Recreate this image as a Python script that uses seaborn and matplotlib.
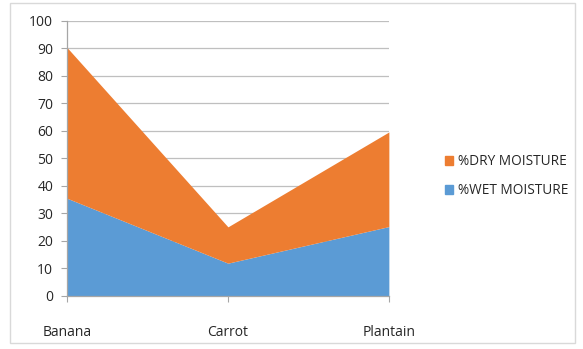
import matplotlib.pyplot as plt
import matplotlib.patches as mpatches
import seaborn as sns
import pandas as pd

categories = ['Banana', 'Carrot', 'Plantain']
wet_moisture = [35.4, 11.8, 25.1]
dry_moisture = [54.8, 13.2, 34.4]

sns.set_style('white')
plt.rcParams['font.family'] = ['Open Sans', 'DejaVu Sans']

df = pd.DataFrame({'x': range(len(categories)),
                   'wet': wet_moisture,
                   'dry': dry_moisture})
df['total'] = df['wet'] + df['dry']

fig = plt.figure(figsize=(5.83, 3.49), dpi=100)
ax = fig.add_axes([0.115, 0.153, 0.552, 0.788])

blue = '#5B9BD5'
orange = '#ED7D31'

# boundaries drawn with seaborn, areas filled between them
sns.lineplot(data=df, x='x', y='wet', ax=ax, color=blue, linewidth=0)
sns.lineplot(data=df, x='x', y='total', ax=ax, color=orange, linewidth=0)
ax.fill_between(df['x'], 0, df['wet'], color=blue, linewidth=0, zorder=3)
ax.fill_between(df['x'], df['wet'], df['total'], color=orange, linewidth=0, zorder=3)

ax.set_xlim(0, len(categories) - 1)
ax.set_ylim(0, 100)
ax.set_yticks(range(0, 101, 10))
ax.set_xticks(df['x'])
ax.set_xticklabels(categories)
ax.set_xlabel('')
ax.set_ylabel('')

ax.yaxis.grid(True, color='#BFBFBF', linewidth=0.9, zorder=0)
ax.set_axisbelow(True)
for side in ['top', 'right']:
    ax.spines[side].set_visible(False)
for side in ['left', 'bottom']:
    ax.spines[side].set_color('#A6A6A6')
    ax.spines[side].set_linewidth(0.9)
    ax.spines[side].set_zorder(4)

ax.tick_params(axis='y', left=True, length=4, color='#A6A6A6', labelsize=10,
               labelcolor='#262626', pad=6)
ax.tick_params(axis='x', bottom=True, length=4, color='#A6A6A6', labelsize=10,
               labelcolor='#262626', pad=17)

handles = [mpatches.Patch(color=orange, label='%DRY MOISTURE'),
           mpatches.Patch(color=blue, label='%WET MOISTURE')]
fig.legend(handles=handles, loc='center left', bbox_to_anchor=(0.742, 0.495),
           frameon=False, fontsize=9.8, handlelength=0.6, handleheight=0.6,
           handletextpad=0.35, labelspacing=1.0, labelcolor='#262626')

fig.patches.append(mpatches.Rectangle((0.017, 0.017), 0.97, 0.975,
                                      transform=fig.transFigure, fill=False,
                                      edgecolor='#D9D9D9', linewidth=1))

plt.savefig('out.png', dpi=100)
